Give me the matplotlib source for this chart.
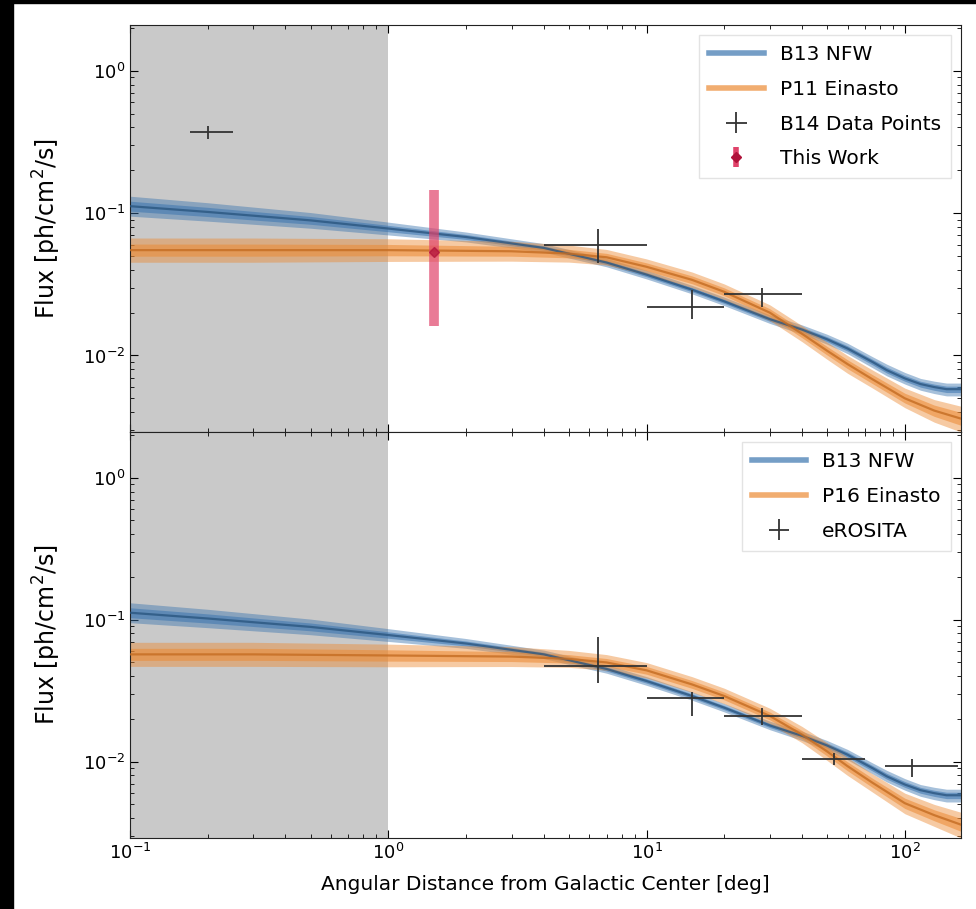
import numpy as np
import matplotlib
matplotlib.use("Agg")
import matplotlib.pyplot as plt
from matplotlib.lines import Line2D
from matplotlib.patches import Rectangle

# ---------------- model bands ----------------
nfw_x = [0.1, 0.2, 0.5, 1, 2, 4, 7, 10, 15, 20, 30, 40, 50, 60, 75, 85, 100, 115,
         130, 145, 165]
nfw_mid = [0.112, 0.102, 0.089, 0.078, 0.068, 0.057, 0.045, 0.037, 0.029, 0.024,
           0.018, 0.0152, 0.0130, 0.0112, 0.0090, 0.0079, 0.0069, 0.0063, 0.0060,
           0.0058, 0.0058]
nfw_hi = [0.1316, 0.1184, 0.1010, 0.0865, 0.0737, 0.0611, 0.0482, 0.0397, 0.0311,
          0.0257, 0.0193, 0.0164, 0.0141, 0.0122, 0.0098, 0.0087, 0.0076, 0.0069,
          0.0066, 0.0064, 0.0064]
nfw_lo = [0.0953, 0.0879, 0.0784, 0.0703, 0.0628, 0.0532, 0.0420, 0.0345, 0.0271,
          0.0224, 0.0168, 0.0141, 0.0120, 0.0103, 0.0082, 0.0072, 0.0063, 0.0057,
          0.0054, 0.0052, 0.0052]

ein_x = [0.1, 0.3, 1, 3, 5, 7, 10, 15, 20, 30, 40, 50, 60, 75, 100, 130, 165]
ein11_mid = [0.055, 0.055, 0.055, 0.054, 0.052, 0.049, 0.042, 0.034, 0.028, 0.020,
             0.0142, 0.0108, 0.0087, 0.0068, 0.0050, 0.0041, 0.0036]
ein11_hi = [0.0669, 0.0669, 0.0661, 0.0634, 0.0597, 0.0556, 0.0477, 0.0386, 0.0318,
            0.0227, 0.0162, 0.0124, 0.0100, 0.0079, 0.0059, 0.0049, 0.0044]
ein11_lo = [0.0452, 0.0452, 0.0458, 0.0460, 0.0453, 0.0432, 0.0370, 0.0300, 0.0247,
            0.0176, 0.0125, 0.0094, 0.0075, 0.0059, 0.0043, 0.0034, 0.0029]

ein16_mid = [0.057, 0.057, 0.056, 0.055, 0.053, 0.050, 0.044, 0.035, 0.029, 0.021,
             0.0155, 0.0118, 0.0093, 0.0071, 0.0051, 0.0042, 0.0036]
ein16_hi = [0.0693, 0.0693, 0.0673, 0.0646, 0.0608, 0.0568, 0.0499, 0.0397, 0.0329,
            0.0238, 0.0177, 0.0136, 0.0107, 0.0082, 0.0060, 0.0050, 0.0044]
ein16_lo = [0.0469, 0.0469, 0.0466, 0.0468, 0.0462, 0.0441, 0.0388, 0.0308, 0.0256,
            0.0185, 0.0136, 0.0102, 0.0080, 0.0061, 0.0043, 0.0035, 0.0029]

# ---------------- measurements ----------------
b14_x = [0.20, 6.5, 15, 28]
b14_xlo = [0.17, 4, 10, 20]
b14_xhi = [0.25, 10, 20, 40]
b14_y = [0.37, 0.060, 0.022, 0.027]
b14_ylo = [0.33, 0.045, 0.018, 0.022]
b14_yhi = [0.41, 0.077, 0.029, 0.030]

tw_x = [1.5]
tw_y = [0.053]
tw_ylo = [0.016]
tw_yhi = [0.145]

ero_x = [6.5, 15, 28, 53, 107]
ero_xlo = [4, 10, 20, 40, 84]
ero_xhi = [10, 20, 40, 70, 160]
ero_y = [0.047, 0.028, 0.021, 0.0105, 0.0093]
ero_ylo = [0.036, 0.021, 0.018, 0.0095, 0.0078]
ero_yhi = [0.075, 0.031, 0.024, 0.0115, 0.0105]

xticks = [0.1, 1, 10, 100]
yticks = [1e-2, 1e-1, 1e0]

BLUE = "#3b75af"
BLUE_D = "#2a5680"
ORANGE = "#ec8a33"
ORANGE_D = "#c46c22"

plt.rcParams["font.family"] = ["DejaVu Sans"]
plt.rcParams["mathtext.fontset"] = "dejavusans"

fig = plt.figure(figsize=(9.76, 9.09), dpi=100)
L, R = 130 / 976, 961 / 976
T, M, B = 1 - 25 / 909, 1 - 432 / 909, 1 - 838 / 909
ax1 = fig.add_axes([L, M, R - L, T - M])
ax2 = fig.add_axes([L, B, R - L, M - B], sharex=ax1)

# dark frame edges
fig.patches.append(Rectangle((0, 0), 13 / 976, 1, transform=fig.transFigure,
                             color="black", zorder=10))
fig.patches.append(Rectangle((0, 1 - 3 / 909), 1, 3 / 909, transform=fig.transFigure,
                             color="black", zorder=10))


def draw_band(ax, x, lo, mid, hi, col, dcol):
    ax.fill_between(x, lo, hi, color=col, alpha=0.45, lw=0, zorder=2)
    lo_in = np.sqrt(np.array(lo) * np.array(mid))
    hi_in = np.sqrt(np.array(hi) * np.array(mid))
    ax.fill_between(x, lo_in, hi_in, color=col, alpha=0.55, lw=0, zorder=2)
    ax.plot(x, mid, color=dcol, lw=1.6, alpha=0.8, zorder=3)


def err(vals, lo, hi):
    v = np.array(vals)
    return [v - np.array(lo), np.array(hi) - v]


LEG = dict(loc="upper right", fontsize=14.5, labelspacing=0.78, handlelength=2.7,
           handletextpad=0.8, borderpad=0.5, frameon=True, edgecolor="#dddddd",
           fancybox=False, borderaxespad=0.5)

for ax in (ax1, ax2):
    ax.axvspan(0.1, 1.0, color="#c9c9c9", zorder=0, lw=0)

# top panel
draw_band(ax1, nfw_x, nfw_lo, nfw_mid, nfw_hi, BLUE, BLUE_D)
draw_band(ax1, ein_x, ein11_lo, ein11_mid, ein11_hi, ORANGE, ORANGE_D)
ax1.errorbar(b14_x, b14_y, xerr=err(b14_x, b14_xlo, b14_xhi),
             yerr=err(b14_y, b14_ylo, b14_yhi), fmt="none", ecolor="#333333",
             elinewidth=1.3, zorder=5)
ax1.errorbar(tw_x, tw_y, yerr=err(tw_y, tw_ylo, tw_yhi), fmt="D", color="#b0123a",
             ms=5, ecolor="#e0436a", elinewidth=7, alpha=0.7, zorder=6)

h1 = [Line2D([], [], color=BLUE, lw=4, alpha=0.7),
      Line2D([], [], color=ORANGE, lw=4, alpha=0.7),
      ax1.errorbar([], [], xerr=[], yerr=[], fmt="none", ecolor="#333333", elinewidth=1.3),
      ax1.errorbar([], [], yerr=[], fmt="D", color="#b0123a", ms=5, ecolor="#e0436a",
                   elinewidth=4)]
ax1.legend(h1, ["B13 NFW", "P11 Einasto", "B14 Data Points", "This Work"], **LEG)

# bottom panel
draw_band(ax2, nfw_x, nfw_lo, nfw_mid, nfw_hi, BLUE, BLUE_D)
draw_band(ax2, ein_x, ein16_lo, ein16_mid, ein16_hi, ORANGE, ORANGE_D)
ax2.errorbar(ero_x, ero_y, xerr=err(ero_x, ero_xlo, ero_xhi),
             yerr=err(ero_y, ero_ylo, ero_yhi), fmt="none", ecolor="#333333",
             elinewidth=1.3, zorder=5)
h2 = [Line2D([], [], color=BLUE, lw=4, alpha=0.7),
      Line2D([], [], color=ORANGE, lw=4, alpha=0.7),
      ax2.errorbar([], [], xerr=[], yerr=[], fmt="none", ecolor="#333333", elinewidth=1.3)]
ax2.legend(h2, ["B13 NFW", "P16 Einasto", "eROSITA"], **LEG)

for ax in (ax1, ax2):
    ax.set_xscale("log")
    ax.set_yscale("log")
    ax.set_xlim(0.1, 165)
    ax.set_ylim(2.9e-3, 2.1)
    ax.set_xticks(xticks)
    ax.set_yticks(yticks)
    ax.tick_params(which="both", direction="in", top=True, right=True, labelsize=13)
    ax.tick_params(which="major", length=6)
    ax.tick_params(which="minor", length=3)
    ax.set_ylabel(r"Flux [ph/cm$^2$/s]", fontsize=17, labelpad=14)
    for s in ax.spines.values():
        s.set_color("#222222")

ax1.tick_params(labelbottom=False)
ax2.set_xlabel("Angular Distance from Galactic Center [deg]", fontsize=14.5, labelpad=9)

fig.savefig("out.png", dpi=100)
